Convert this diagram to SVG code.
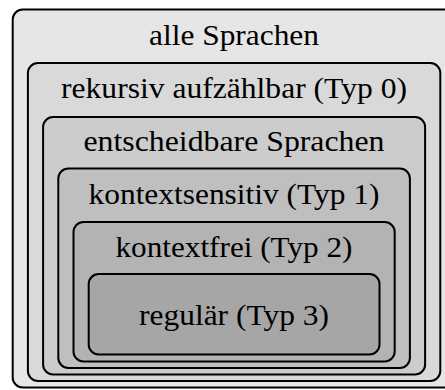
<svg xmlns="http://www.w3.org/2000/svg" width="445" height="390" viewBox="0 0 445 390">
<style>
.box{stroke:#000;stroke-width:2}
.lbl{font-family:"Liberation Serif","DejaVu Serif",serif;font-size:29px;fill:#000;text-anchor:middle}
</style>
<rect width="445" height="390" fill="#ffffff"/>
<g id="alle">
<rect class="box" x="12.7" y="9.5" width="442.8" height="378" rx="10" fill="#e6e6e6"/>
<text class="lbl" x="234" y="45" textLength="170" lengthAdjust="spacingAndGlyphs">alle Sprachen</text>
</g>
<g id="typ0">
<rect class="box" x="27.9" y="63" width="412.4" height="318" rx="10" fill="#d9d9d9"/>
<text class="lbl" x="234" y="98" textLength="346" lengthAdjust="spacingAndGlyphs">rekursiv aufzählbar (Typ 0)</text>
</g>
<g id="entscheidbar">
<rect class="box" x="43.1" y="117" width="382" height="257.5" rx="10" fill="#cccccc"/>
<text class="lbl" x="234" y="151" textLength="301" lengthAdjust="spacingAndGlyphs">entscheidbare Sprachen</text>
</g>
<g id="typ1">
<rect class="box" x="58.3" y="168.5" width="351.6" height="199.5" rx="10" fill="#bfbfbf"/>
<text class="lbl" x="234" y="204" textLength="291" lengthAdjust="spacingAndGlyphs">kontextsensitiv (Typ 1)</text>
</g>
<g id="typ2">
<rect class="box" x="73.5" y="222" width="321.2" height="139.5" rx="10" fill="#b3b3b3"/>
<text class="lbl" x="234" y="257" textLength="237" lengthAdjust="spacingAndGlyphs">kontextfrei (Typ 2)</text>
</g>
<g id="typ3">
<rect class="box" x="88.7" y="274" width="290.8" height="80.5" rx="10" fill="#a6a6a6"/>
<text class="lbl" x="234" y="325" textLength="190" lengthAdjust="spacingAndGlyphs">regulär (Typ 3)</text>
</g>
</svg>
